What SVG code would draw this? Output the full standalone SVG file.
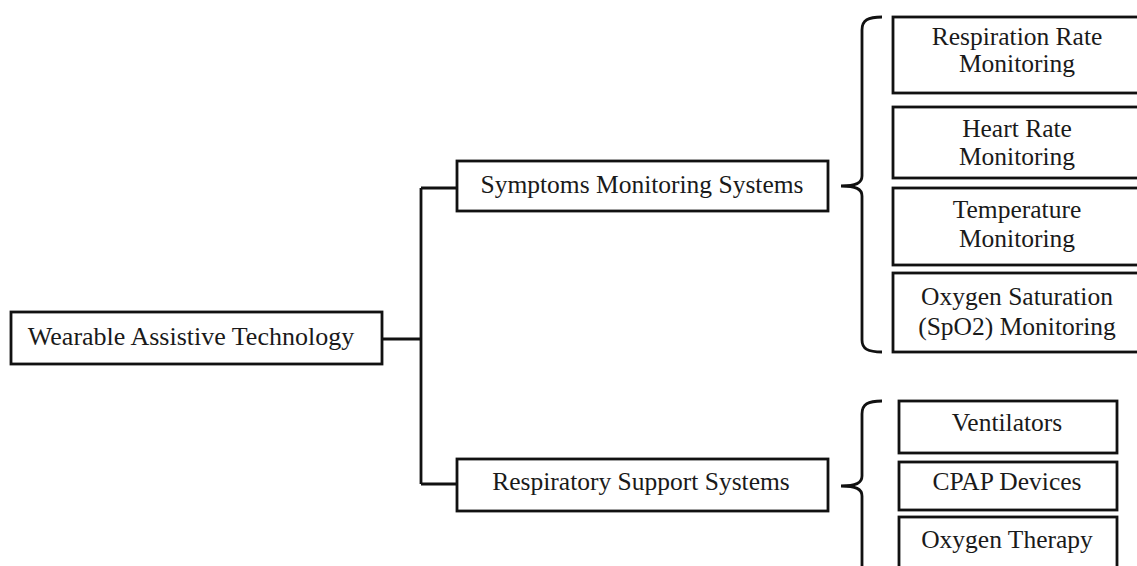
<svg xmlns="http://www.w3.org/2000/svg" width="1137" height="566" viewBox="0 0 1137 566">
<style>
.box{fill:#fff;stroke:#111;stroke-width:2.8}
.t{font-family:"Liberation Serif","Times New Roman",serif;font-size:25.5px;fill:#1a1a1a;text-anchor:middle}
.c{fill:none;stroke:#111;stroke-width:2.8}
</style>
<rect width="1137" height="566" fill="#fff"/>
<g id="connectors">
<path class="c" d="M382 339 H421 M421 188 V484 M421 188 H457 M421 484 H457"/>
<path class="c" d="M882 17 C868 17 862 20 862 30 V176 C862 183 856 186 841 186 C856 186 862 189 862 196 V340 C862 349 868 352 882 352"/>
<path class="c" d="M882 401 C868 401 862 404 862 414 V476 C862 483 856 486 841 486 C856 486 862 489 862 496 V570"/>
</g>
<g id="root"><rect class="box" x="11" y="312" width="371" height="52"/><text class="t" x="191" y="345" style="font-size:26px">Wearable Assistive Technology</text></g>
<g id="symptoms"><rect class="box" x="457" y="161" width="371" height="50"/><text class="t" x="642" y="193">Symptoms Monitoring Systems</text></g>
<g id="respiratory"><rect class="box" x="457" y="459" width="371" height="52"/><text class="t" x="641" y="490">Respiratory Support Systems</text></g>
<g id="resp-rate"><rect class="box" x="893" y="17" width="252" height="76"/><text class="t" x="1017" y="45">Respiration Rate</text><text class="t" x="1017" y="72">Monitoring</text></g>
<g id="heart-rate"><rect class="box" x="893" y="107" width="252" height="71"/><text class="t" x="1017" y="137">Heart Rate</text><text class="t" x="1017" y="165">Monitoring</text></g>
<g id="temperature"><rect class="box" x="893" y="188" width="252" height="77"/><text class="t" x="1017" y="218">Temperature</text><text class="t" x="1017" y="247">Monitoring</text></g>
<g id="spo2"><rect class="box" x="893" y="273" width="252" height="79"/><text class="t" x="1017" y="305">Oxygen Saturation</text><text class="t" x="1017" y="335">(SpO2) Monitoring</text></g>
<g id="ventilators"><rect class="box" x="899" y="401" width="218" height="52"/><text class="t" x="1007" y="431">Ventilators</text></g>
<g id="cpap"><rect class="box" x="899" y="462" width="218" height="48"/><text class="t" x="1007" y="490">CPAP Devices</text></g>
<g id="oxygen-therapy"><rect class="box" x="899" y="517" width="218" height="60"/><text class="t" x="1007" y="548">Oxygen Therapy</text></g>
</svg>
